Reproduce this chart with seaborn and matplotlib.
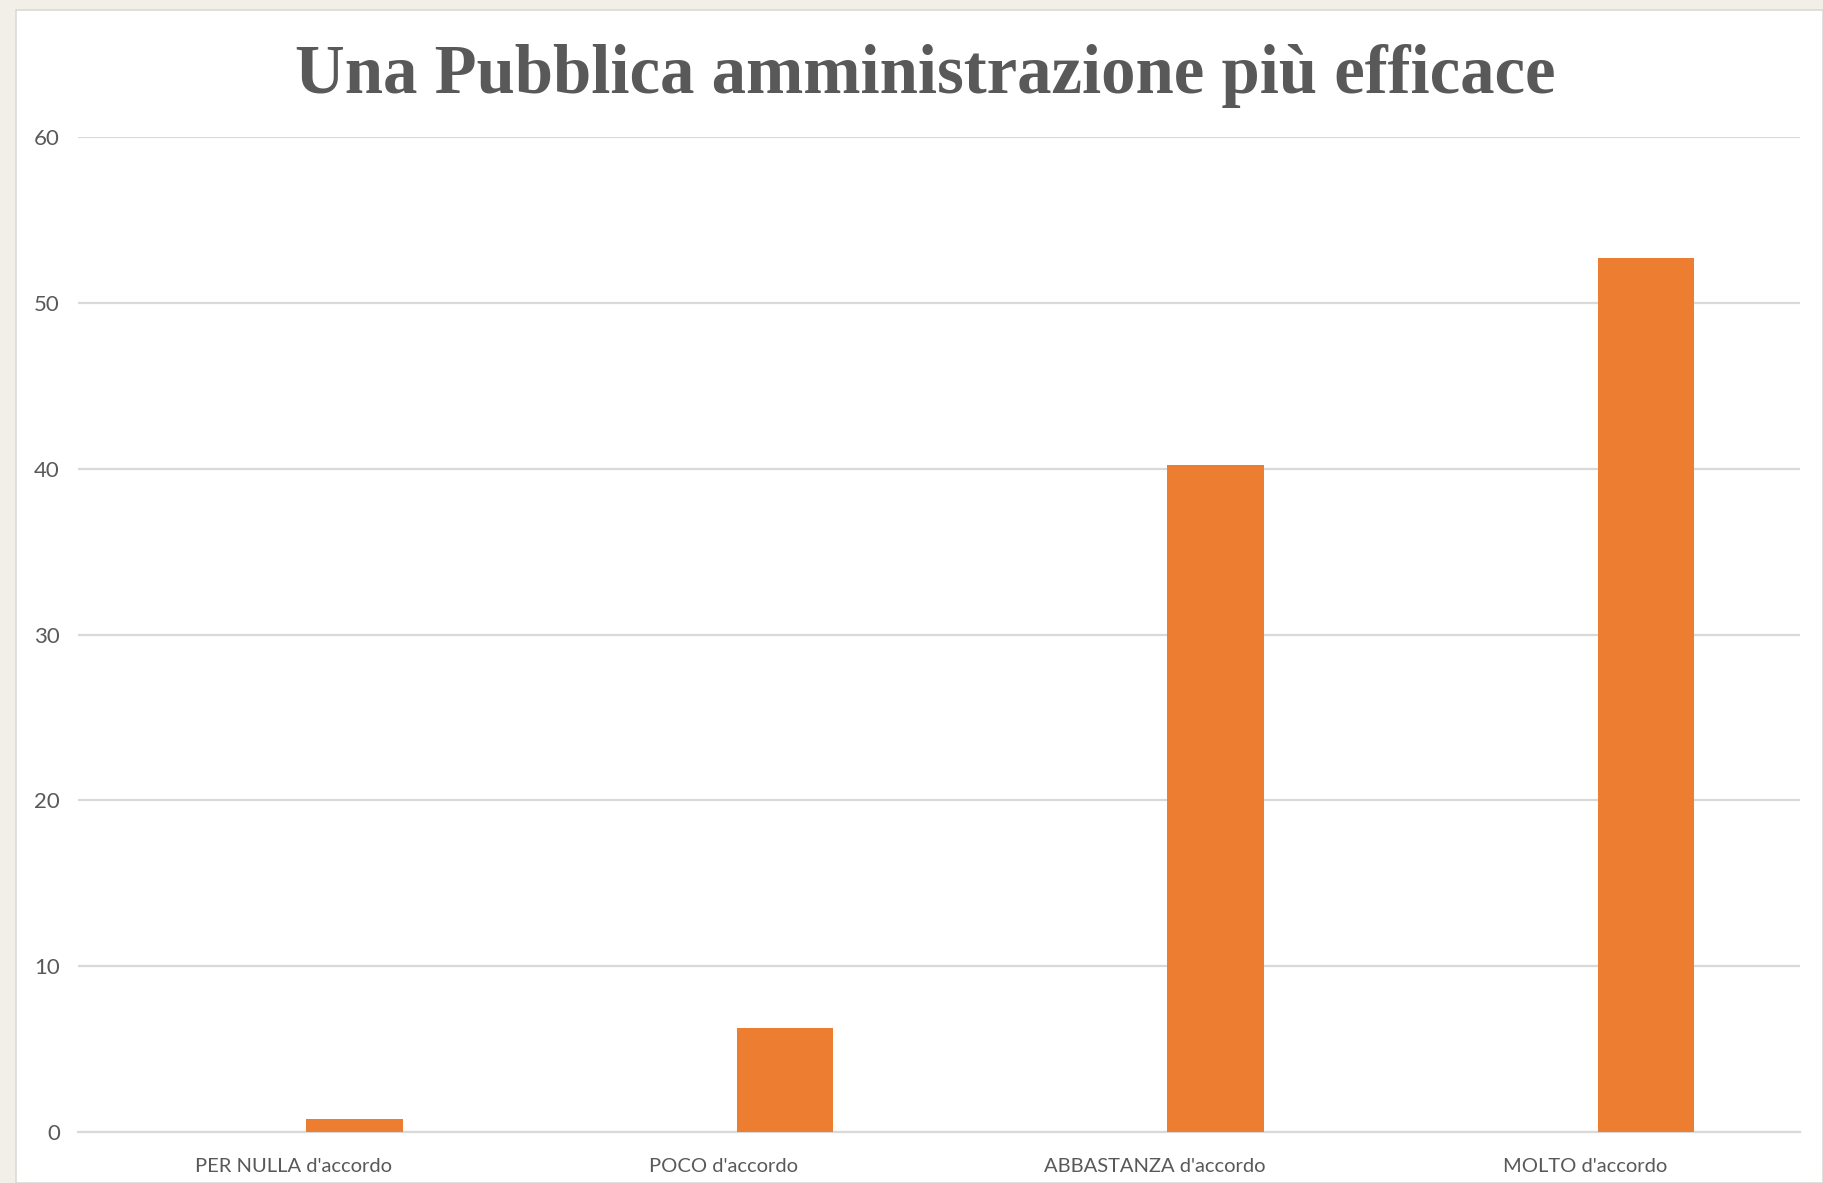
import matplotlib
matplotlib.use("Agg")
import matplotlib.pyplot as plt
import seaborn as sns
import pandas as pd
import numpy as np
from matplotlib.patches import Rectangle

categories = ["PER NULLA d'accordo", "POCO d'accordo", "ABBASTANZA d'accordo", "MOLTO d'accordo"]
values = [0.8, 6.3, 40.2, 52.7]
empty_series = [np.nan, np.nan, np.nan, np.nan]
series_names = ["Serie0", "Serie1"]
yticks = [0, 10, 20, 30, 40, 50, 60]
title = "Una Pubblica amministrazione più efficace"

df = pd.DataFrame({
    "cat": categories * 2,
    "val": empty_series + values,
    "serie": [series_names[0]] * 4 + [series_names[1]] * 4,
})

sns.set_theme(style="white")
plt.rcParams['font.family'] = ['Lato', 'DejaVu Sans']

W, H = 1823, 1183
fig = plt.figure(figsize=(W / 100, H / 100), dpi=100)
fig.patch.set_facecolor("#F2EEE8")
fig.patches.append(Rectangle((16 / W, 0), 1 - 16 / W, 1 - 10 / H, transform=fig.transFigure,
                             facecolor="white", edgecolor="#DDDAD5", linewidth=1.2, zorder=-5))

ax = fig.add_axes([78 / W, 1 - 1132 / H, (1800 - 78) / W, (1132 - 137) / H])
ax.set_zorder(2)
ax.set_facecolor("white")

sns.barplot(data=df, x="cat", y="val", hue="serie", hue_order=series_names,
            order=categories, palette=["#FFFFFF", "#ED7D31"], saturation=1,
            width=0.568, gap=0.21, dodge=True, linewidth=0, errorbar=None,
            legend=False, ax=ax, zorder=3)

ax.set_ylim(0, 60)
ax.set_xlim(-0.5, len(categories) - 0.5)
ax.set_yticks(yticks)
ax.set_yticklabels([str(t) for t in yticks])
ax.yaxis.grid(True, color="#D9D9D9", linewidth=1.6)
ax.set_axisbelow(True)
for s in ["top", "right", "left"]:
    ax.spines[s].set_visible(False)
ax.spines["bottom"].set_color("#D9D9D9")
ax.spines["bottom"].set_linewidth(1.6)
ax.tick_params(axis="y", length=0, pad=13, labelsize=16, labelcolor="#595959")
ax.tick_params(axis="x", length=0, pad=19, labelsize=14.5, labelcolor="#595959")
ax.set_xlabel("")
ax.set_ylabel("")

fig.text(925 / W, 1 - 93 / H, title, ha="center", va="baseline",
         fontsize=49.5, fontweight="bold", color="#595959",
         family=["Liberation Serif", "DejaVu Serif"], zorder=5)

fig.savefig("out.png", dpi=100, facecolor=fig.get_facecolor())
